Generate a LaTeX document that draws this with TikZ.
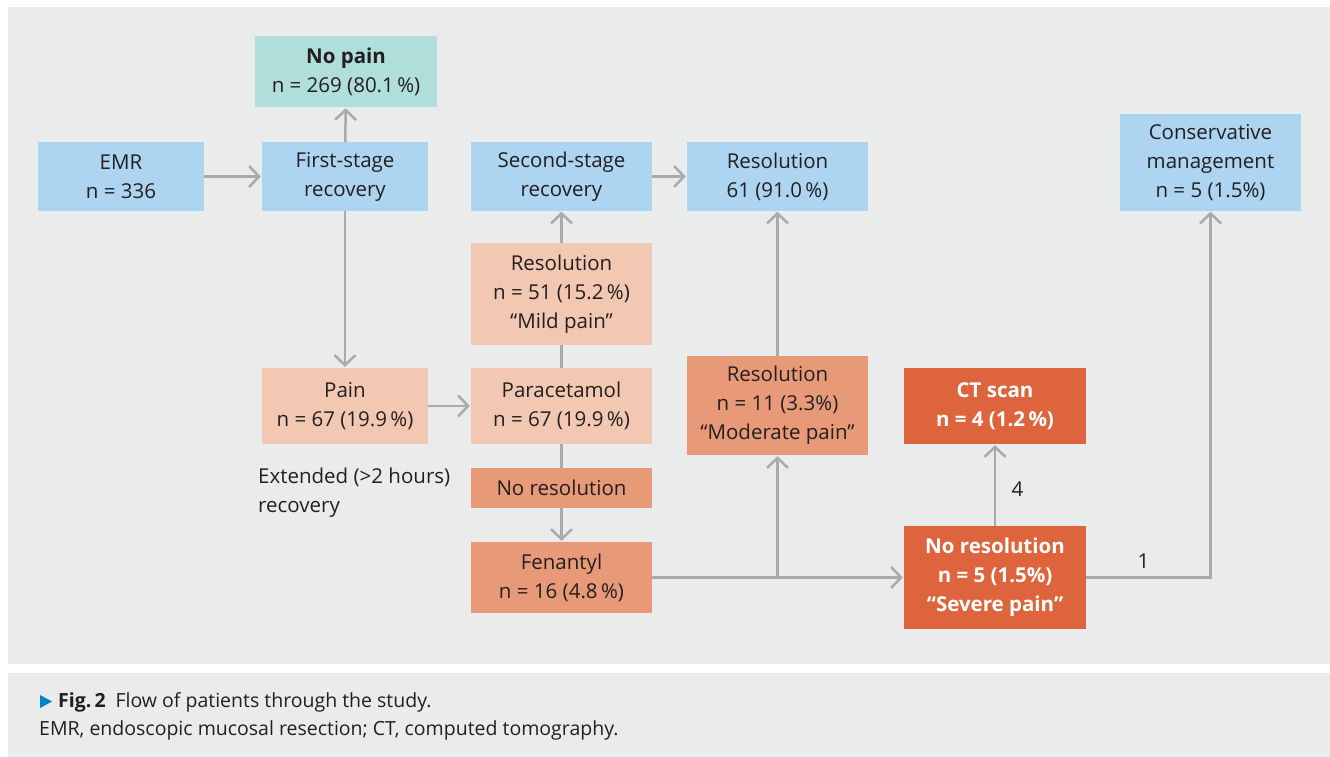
\documentclass[tikz,border=0pt]{standalone}
\usepackage{fontspec}
\setmainfont{Open Sans}
\usetikzlibrary{arrows.meta,positioning}

\definecolor{panel}{RGB}{234,235,235}
\definecolor{ink}{RGB}{35,31,32}
\definecolor{wire}{RGB}{168,170,173}
\definecolor{teal}{RGB}{176,222,218}
\definecolor{sky}{RGB}{173,212,240}
\definecolor{peach}{RGB}{243,200,178}
\definecolor{salmon}{RGB}{232,154,120}
\definecolor{rust}{RGB}{221,100,60}
\definecolor{tri}{RGB}{0,130,200}

\tikzset{
  box/.style={inner sep=0pt, align=center, text=ink, font=\fontsize{20.5}{29}\selectfont},
  wd/.style={minimum width=166, minimum height=#1},
  ww/.style={minimum width=181, minimum height=#1},
  ln/.style={draw=wire, line width=2.5pt},
  arr/.style={ln, -{Straight Barb[length=10pt,width=21pt]}, shorten >=1pt},
  num/.style={text=ink, font=\fontsize{20.5}{24}\selectfont},
}

\begin{document}
\begin{tikzpicture}[x=1pt,y=-1pt]
	\useasboundingbox (0,0) rectangle (1330,757);
	\fill[panel] (8,7) rectangle (1330,664);
	\fill[panel] (8,673) rectangle (1330,757);

	% first row
	\node[box,fill=teal,minimum width=182,minimum height=71] (nopain) at (346,71.5) {\textbf{No pain}\\n = 269 (80.1\,\%)};
	\node[box,fill=sky,wd=68] (emr) at (121,176.5) {EMR\\n = 336};
	\node[box,fill=sky,wd=68] (first) at (345,176.5) {First-stage\\recovery};
	\node[box,fill=sky,ww=68] (second) at (561.5,176.5) {Second-stage\\recovery};
	\node[box,fill=sky,ww=68] (res61) at (777.5,176.5) {Resolution\\61 (91.0\,\%)};
	\node[box,fill=sky,ww=96] (cons) at (1210.5,162.5) {Conservative\\management\\n = 5 (1.5\%)};

	% extended recovery
	\node[box,fill=peach,ww=102] (res51) at (561.5,294) {Resolution\\n = 51 (15.2\,\%)\\``Mild pain''};
	\node[box,fill=peach,wd=76] (pain) at (345,406) {Pain\\n = 67 (19.9\,\%)};
	\node[box,fill=peach,ww=76] (para) at (561.5,406) {Paracetamol\\n = 67 (19.9\,\%)};
	\node[box,fill=salmon,ww=99] (res11) at (777.5,405.5) {Resolution\\n = 11 (3.3\%)\\``Moderate pain''};
	\node[box,fill=salmon,ww=40] (nores) at (561.5,488) {No resolution};
	\node[box,fill=salmon,ww=71] (fent) at (561.5,577.5) {Fenantyl\\n = 16 (4.8\,\%)};
	\node[box,fill=rust,text=white,font=\fontsize{20.5}{29}\selectfont\bfseries,minimum width=182,minimum height=76] (ct) at (995,406) {CT scan\\n = 4 (1.2\,\%)};
	\node[box,fill=rust,text=white,font=\fontsize{20.5}{29}\selectfont\bfseries,minimum width=182,minimum height=103] (severe) at (995,577.5) {No resolution\\n = 5 (1.5\%)\\``Severe pain''};
	\node[box,anchor=west,align=left] (ext) at (258,493) {Extended (>2 hours)\\recovery};

	% connectors
	\draw[arr] (emr) -- (first);
	\draw[arr] (first) -- (nopain);
	\draw[arr] (first) -- (pain);
	\draw[arr] (pain) -- (para);
	\draw[ln] (para) -- (res51);
	\draw[arr] (res51) -- (second);
	\draw[arr] (second) -- (res61);
	\draw[ln] (para) -- (nores);
	\draw[arr] (nores) -- (fent);
	\coordinate (split) at (fent.east -| res11.south);
	\draw[arr] (fent) -- (severe);
	\draw[arr] (split) -- (res11);
	\draw[arr] (res11) -- (res61);
	\draw[arr] (severe) -- node[num,right=12pt,yshift=-4pt] (n4) {4} (ct);
	\draw[arr] (severe.east) -| node[num,pos=0.23,above=4pt] (n1) {1} (cons.south);

	% caption
	\fill[tri] (40,695) -- (52,701.5) -- (40,708) -- cycle;
	\node[anchor=west,text=ink,font=\fontsize{19.5}{28}\selectfont,inner sep=0pt] (cap1) at (58,702) {\textbf{Fig.\,2}\enspace Flow of patients through the study.};
	\node[anchor=west,text=ink,font=\fontsize{19.5}{28}\selectfont,inner sep=0pt] (cap2) at (39,730) {EMR, endoscopic mucosal resection; CT, computed tomography.};
\end{tikzpicture}
\end{document}
